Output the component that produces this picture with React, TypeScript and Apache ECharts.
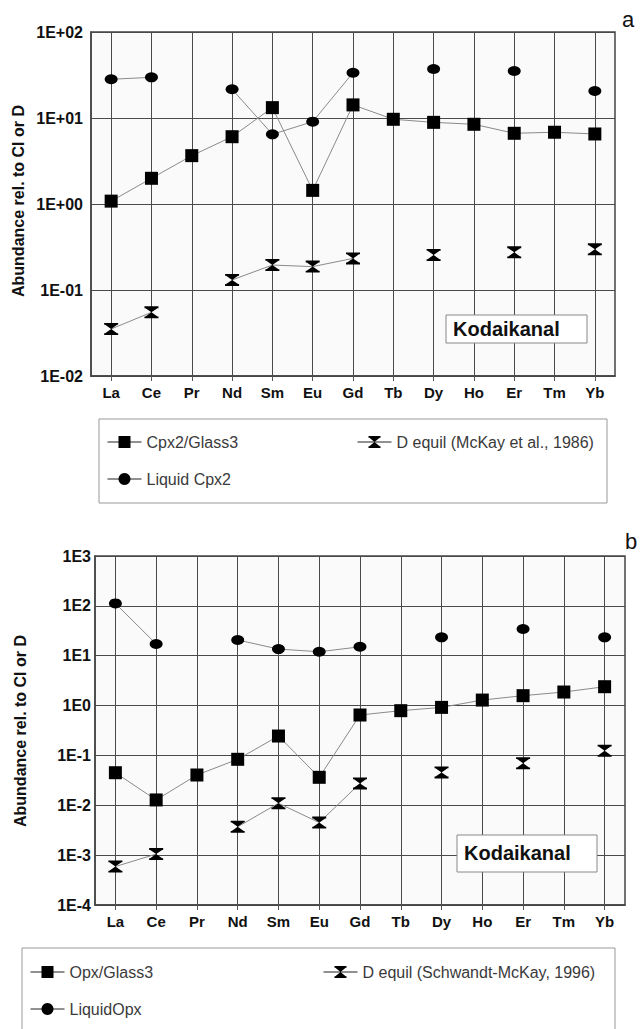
import React, { useEffect, useRef } from 'react';
import * as echarts from 'echarts';

const categories = ['La', 'Ce', 'Pr', 'Nd', 'Sm', 'Eu', 'Gd', 'Tb', 'Dy', 'Ho', 'Er', 'Tm', 'Yb'];

// Panel a
const cpxGlass = [1.08, 1.99, 3.65, 6.06, 13.2, 1.44, 14.2, 9.66, 8.9, 8.45, 6.64, 6.83, 6.52];
const liquidCpx = [28.2, 29.7, null, 21.6, 6.46, 9.06, 33.6, null, 37.1, null, 35.2, null, 20.6];
const dEquilCpx = [0.0352, 0.055, null, 0.131, 0.195, 0.187, 0.233, null, 0.255, null, 0.274, null, 0.297];

// Panel b
const opxGlass = [0.045, 0.0128, 0.0405, 0.0836, 0.245, 0.0364, 0.647, 0.79, 0.92, 1.29, 1.58, 1.87, 2.39];
const liquidOpx = [112, 17.2, null, 20.7, 13.6, 12.0, 15.1, null, 23.4, null, 34.3, null, 23.4];
const dEquilOpx = [0.00059, 0.00105, null, 0.0037, 0.011, 0.0045, 0.0275, null, 0.0457, null, 0.0695, null, 0.124];

const topTickLabels = ['1E-02', '1E-01', '1E+00', '1E+01', '1E+02'];
const topMinExp = -2;
const bottomTickLabels = ['1E-4', '1E-3', '1E-2', '1E-1', '1E0', '1E1', '1E2', '1E3'];
const bottomMinExp = -4;

const seriesNamesA = ['Cpx2/Glass3', 'Liquid Cpx2', 'D equil (McKay et al., 1986)'];
const seriesNamesB = ['Opx/Glass3', 'LiquidOpx', 'D equil (Schwandt-McKay, 1996)'];
const yTitle = 'Abundance rel. to CI or D';
const siteName = 'Kodaikanal';

const FONT = 'Liberation Sans, Arial, sans-serif';
const HOURGLASS =
  'path://M0,0L14,0L14,1.8L13,1.8L7,6L13,10.2L14,10.2L14,12L0,12L0,10.2L1,10.2L7,6L1,1.8L0,1.8Z';

const clean = (arr: (number | null)[]) => arr.map((v) => (v == null ? '-' : v));

function dataSeries(name: string, data: (number | null)[], idx: number, symbol: string, size: number[]) {
  return {
    name,
    type: 'line',
    xAxisIndex: idx,
    yAxisIndex: idx,
    data: clean(data),
    connectNulls: false,
    symbol,
    symbolSize: size,
    showSymbol: true,
    showAllSymbol: true,
    z: 5,
    lineStyle: { color: '#8a8a8a', width: 1 },
    itemStyle: { color: '#000' },
    emphasis: { disabled: true },
  };
}

function gridLineSeries(idx: number) {
  return {
    name: '_grid' + idx,
    type: 'line',
    xAxisIndex: idx,
    yAxisIndex: idx,
    data: categories.map(() => '-'),
    symbol: 'none',
    silent: true,
    z: 1,
    markLine: {
      silent: true,
      symbol: ['none', 'none'],
      label: { show: false },
      lineStyle: { color: '#4a4a4a', width: 1, type: 'solid' },
      emphasis: { disabled: true },
      data: categories.map((c) => ({ xAxis: c })),
    },
  };
}

function xAxis(idx: number, margin: number) {
  return {
    type: 'category',
    gridIndex: idx,
    data: categories,
    boundaryGap: true,
    axisLine: { show: true, lineStyle: { color: '#444', width: 1.5 } },
    axisTick: { show: true, alignWithLabel: true, length: 5, lineStyle: { color: '#555' } },
    splitLine: { show: false },
    axisLabel: { fontFamily: FONT, fontWeight: 'bold', fontSize: 15, color: '#111', margin, interval: 0 },
  };
}

function yAxis(idx: number, min: number, max: number, labels: string[], minExp: number, margin: number) {
  return {
    type: 'log',
    logBase: 10,
    gridIndex: idx,
    min,
    max,
    axisLine: { show: true, lineStyle: { color: '#444', width: 1.5 } },
    axisTick: { show: false },
    minorTick: { show: false },
    splitLine: { show: true, lineStyle: { color: '#4a4a4a', width: 1 } },
    axisLabel: {
      fontFamily: FONT,
      fontWeight: 'bold',
      fontSize: 16,
      color: '#111',
      margin,
      formatter: (v: number) => labels[Math.round(Math.log10(v)) - minExp] ?? '',
    },
  };
}

function legendItem(name: string, left: number, top: number) {
  return {
    data: [name],
    left,
    top,
    z: 60,
    padding: 0,
    orient: 'horizontal',
    itemWidth: 34,
    itemHeight: 15,
    selectedMode: false,
    lineStyle: { color: '#222', width: 1 },
    textStyle: { fontFamily: FONT, fontSize: 16, color: '#3a3a3a' },
  };
}

const option = {
  animation: false,
  backgroundColor: '#fff',
  grid: [
    { left: 91, top: 32, width: 524, height: 344, show: true, backgroundColor: '#fafafa', borderColor: '#444', borderWidth: 1.5 },
    { left: 95, top: 556, width: 530, height: 349, show: true, backgroundColor: '#fafafa', borderColor: '#444', borderWidth: 1.5 },
  ],
  xAxis: [xAxis(0, 9), xAxis(1, 9)],
  yAxis: [
    yAxis(0, 0.01, 100, topTickLabels, topMinExp, 8),
    yAxis(1, 0.0001, 1000, bottomTickLabels, bottomMinExp, 4),
  ],
  legend: [
    legendItem(seriesNamesA[0], 107, 434),
    legendItem(seriesNamesA[2], 357, 434),
    legendItem(seriesNamesA[1], 107, 471),
    legendItem(seriesNamesB[0], 30, 964),
    legendItem(seriesNamesB[2], 323, 964),
    legendItem(seriesNamesB[1], 30, 1001),
  ],
  series: [
    gridLineSeries(0),
    gridLineSeries(1),
    dataSeries(seriesNamesA[0], cpxGlass, 0, 'rect', [13, 13]),
    dataSeries(seriesNamesA[1], liquidCpx, 0, 'circle', [13, 10]),
    dataSeries(seriesNamesA[2], dEquilCpx, 0, HOURGLASS, [14, 12]),
    dataSeries(seriesNamesB[0], opxGlass, 1, 'rect', [13, 13]),
    dataSeries(seriesNamesB[1], liquidOpx, 1, 'circle', [13, 10]),
    dataSeries(seriesNamesB[2], dEquilOpx, 1, HOURGLASS, [14, 12]),
  ],
  graphic: [
    { type: 'rect', z: 0, shape: { x: 99, y: 419, width: 508, height: 84 }, style: { fill: '#fff', stroke: '#999', lineWidth: 1 } },
    { type: 'rect', z: 0, shape: { x: 22, y: 948, width: 593, height: 100 }, style: { fill: '#fff', stroke: '#999', lineWidth: 1 } },
    { type: 'rect', z: 100, shape: { x: 446, y: 315, width: 141, height: 28 }, style: { fill: '#fff', stroke: '#888', lineWidth: 1 } },
    { type: 'text', z: 101, x: 453, y: 329, style: { text: siteName, font: `bold 20px ${FONT}`, fill: '#111', textVerticalAlign: 'middle', textAlign: 'left' } },
    { type: 'rect', z: 100, shape: { x: 457, y: 835, width: 140, height: 37 }, style: { fill: '#fff', stroke: '#888', lineWidth: 1 } },
    { type: 'text', z: 101, x: 464, y: 853, style: { text: siteName, font: `bold 20px ${FONT}`, fill: '#111', textVerticalAlign: 'middle', textAlign: 'left' } },
    { type: 'text', z: 101, x: 18, y: 201, rotation: Math.PI / 2, style: { text: yTitle, font: `bold 16px ${FONT}`, fill: '#111', textVerticalAlign: 'middle', textAlign: 'center' } },
    { type: 'text', z: 101, x: 20, y: 731, rotation: Math.PI / 2, style: { text: yTitle, font: `bold 16px ${FONT}`, fill: '#111', textVerticalAlign: 'middle', textAlign: 'center' } },
    { type: 'text', z: 101, x: 628, y: 19, style: { text: 'a', font: `22px ${FONT}`, fill: '#111', textVerticalAlign: 'middle', textAlign: 'center' } },
    { type: 'text', z: 101, x: 631, y: 541, style: { text: 'b', font: `22px ${FONT}`, fill: '#111', textVerticalAlign: 'middle', textAlign: 'center' } },
  ],
};

export default function App() {
  const ref = useRef<HTMLDivElement>(null);
  useEffect(() => {
    if (!ref.current) return;
    const chart = echarts.init(ref.current, null, { renderer: 'svg' });
    chart.setOption(option as any);
    return () => chart.dispose();
  }, []);
  return (
    <div
      ref={ref}
      style={{ position: 'fixed', left: 0, top: 0, width: 640, height: 1029, background: '#fff' }}
    />
  );
}
